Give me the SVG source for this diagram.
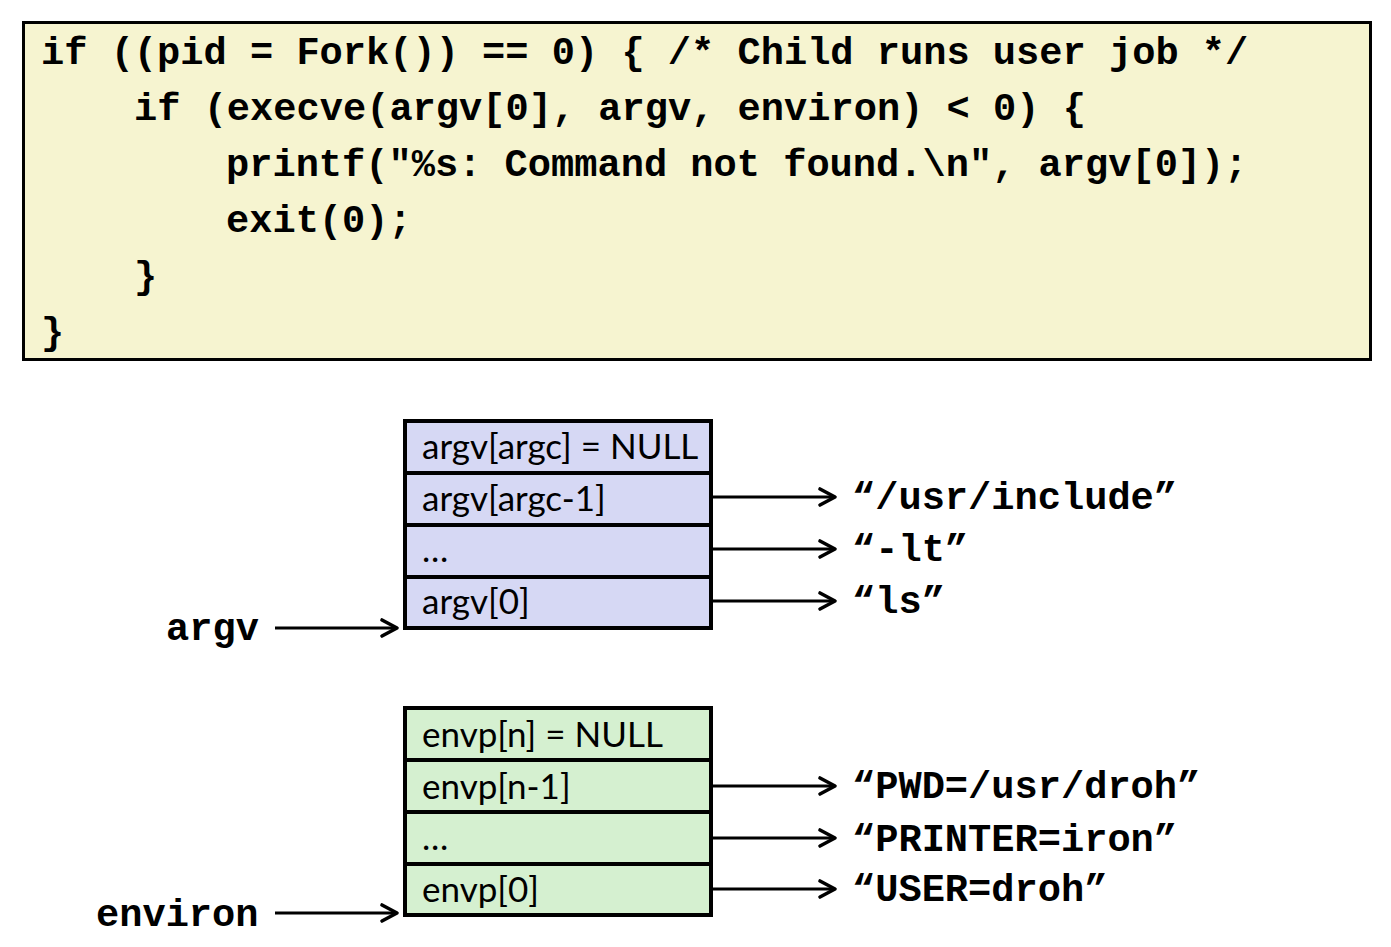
<svg xmlns="http://www.w3.org/2000/svg" width="1391" height="947" viewBox="0 0 1391 947">
<defs>
<style>
.code{font-family:"Liberation Mono","Courier New",monospace;font-weight:bold;font-size:38.7px;fill:#000}
.lbl{font-family:Lato,"Open Sans",sans-serif;font-size:35px;fill:#000}
.cell{stroke:#000;stroke-width:4}
.argv{fill:#d6d8f4}
.env{fill:#d5f0d0}
.conn{stroke:#000;stroke-width:3;fill:none}
</style>
<marker id="ah" viewBox="0 0 24 24" refX="21" refY="12" markerWidth="24" markerHeight="24" markerUnits="userSpaceOnUse" orient="auto">
<path d="M6 4 L21 12 L6 20" fill="none" stroke="#000" stroke-width="3.6" stroke-linecap="round" stroke-linejoin="round"/>
</marker>
</defs>
<rect width="1391" height="947" fill="#fff"/>
<g id="code">
<rect x="23.5" y="22.5" width="1347" height="337" fill="#f6f4d0" stroke="#000" stroke-width="3"/>
<text class="code" x="41" y="64">if ((pid = Fork()) == 0) { /* Child runs user job */</text>
<text class="code" x="134" y="120">if (execve(argv[0], argv, environ) &lt; 0) {</text>
<text class="code" x="226" y="176">printf("%s: Command not found.\n", argv[0]);</text>
<text class="code" x="226" y="232">exit(0);</text>
<text class="code" x="134" y="288">}</text>
<text class="code" x="41" y="344">}</text>
</g>
<g id="argv-array">
<rect class="cell argv" x="405" y="421" width="306" height="52"/>
<rect class="cell argv" x="405" y="473" width="306" height="52"/>
<rect class="cell argv" x="405" y="525" width="306" height="52"/>
<rect class="cell argv" x="405" y="577" width="306" height="51"/>
<text class="lbl" x="422" y="459">argv[argc] = NULL</text>
<text class="lbl" x="422" y="511">argv[argc-1]</text>
<text class="lbl" x="422" y="562">…</text>
<text class="lbl" x="422" y="614">argv[0]</text>
</g>
<g id="envp-array">
<rect class="cell env" x="405" y="708" width="306" height="52"/>
<rect class="cell env" x="405" y="760" width="306" height="52"/>
<rect class="cell env" x="405" y="812" width="306" height="52"/>
<rect class="cell env" x="405" y="864" width="306" height="51"/>
<text class="lbl" x="422" y="747">envp[n] = NULL</text>
<text class="lbl" x="422" y="799">envp[n-1]</text>
<text class="lbl" x="422" y="850">…</text>
<text class="lbl" x="422" y="902">envp[0]</text>
</g>
<g id="labels">
<text class="code" x="166" y="640">argv</text>
<text class="code" x="96" y="926">environ</text>
<text class="code" x="852" y="509">“/usr/include”</text>
<text class="code" x="852" y="561">“-lt”</text>
<text class="code" x="852" y="613">“ls”</text>
<text class="code" x="852" y="798">“PWD=/usr/droh”</text>
<text class="code" x="852" y="851">“PRINTER=iron”</text>
<text class="code" x="852" y="901">“USER=droh”</text>
</g>
<g id="connectors">
<line class="conn" x1="275" y1="628" x2="397" y2="628" marker-end="url(#ah)"/>
<line class="conn" x1="275" y1="913" x2="397" y2="913" marker-end="url(#ah)"/>
<line class="conn" x1="713" y1="497" x2="835" y2="497" marker-end="url(#ah)"/>
<line class="conn" x1="713" y1="549" x2="835" y2="549" marker-end="url(#ah)"/>
<line class="conn" x1="713" y1="601" x2="835" y2="601" marker-end="url(#ah)"/>
<line class="conn" x1="713" y1="786" x2="835" y2="786" marker-end="url(#ah)"/>
<line class="conn" x1="713" y1="838" x2="835" y2="838" marker-end="url(#ah)"/>
<line class="conn" x1="713" y1="889" x2="835" y2="889" marker-end="url(#ah)"/>
</g>
</svg>
